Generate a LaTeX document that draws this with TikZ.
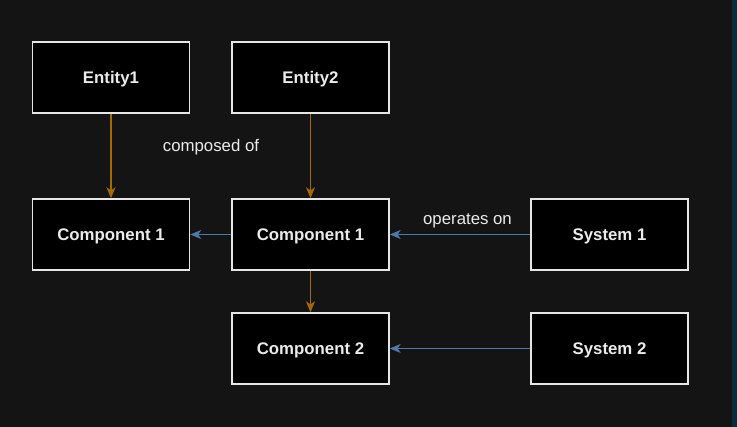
\documentclass[tikz,border=0pt]{standalone}
\usepackage{fontspec}
\setmainfont{Liberation Sans}
\usetikzlibrary{arrows.meta}
\definecolor{bgc}{HTML}{141414}
\definecolor{stripc}{HTML}{0B2A3C}
\definecolor{boxline}{HTML}{E6E6E6}
\definecolor{orangec}{HTML}{A36A04}
\definecolor{bluec}{HTML}{4F77A8}
\definecolor{txt}{HTML}{EBEBEB}
\begin{document}
\begin{tikzpicture}[x=1pt,y=-1pt,
  ent/.style={draw=boxline,fill=black,line width=1.4pt,minimum width=157pt,minimum height=71pt,inner sep=0pt,
    text height=12pt,text depth=0pt,
    text=txt,font=\fontsize{16.8}{20}\selectfont\bfseries},
  comp/.style={-{Stealth[length=11pt,width=9pt,inset=3pt]},line width=1.3pt,draw=orangec},
  oper/.style={-{Stealth[length=11pt,width=9pt,inset=3pt]},line width=1.3pt,draw=bluec},
  lbl/.style={text=txt,font=\fontsize{16.8}{20}\selectfont,inner sep=0pt}]
\fill[bgc] (0,0) rectangle (737,427);
\fill[stripc] (732,0) rectangle (737,427);
\useasboundingbox (0,0) rectangle (737,427);
\node[ent] (e1) at (111,77.5) {Entity1};
\node[ent] (e2) at (310.5,77.5) {Entity2};
\node[ent] (c1l) at (111,234.5) {Component 1};
\node[ent] (c1m) at (310.5,234.5) {Component 1};
\node[ent] (s1) at (609.5,234.5) {System 1};
\node[ent] (c2) at (310.5,348.5) {Component 2};
\node[ent] (s2) at (609.5,348.5) {System 2};
\draw[comp] (e1) -- (c1l);
\draw[comp] (e2) -- (c1m);
\draw[comp] (c1m) -- (c2);
\draw[oper] (c1m) -- (c1l);
\draw[oper] (s1) -- (c1m);
\draw[oper] (s2) -- (c2);
\node[lbl] (l1) at (211,147) {composed of};
\node[lbl] (l2) at (467.5,220.5) {operates on};
\end{tikzpicture}
\end{document}
